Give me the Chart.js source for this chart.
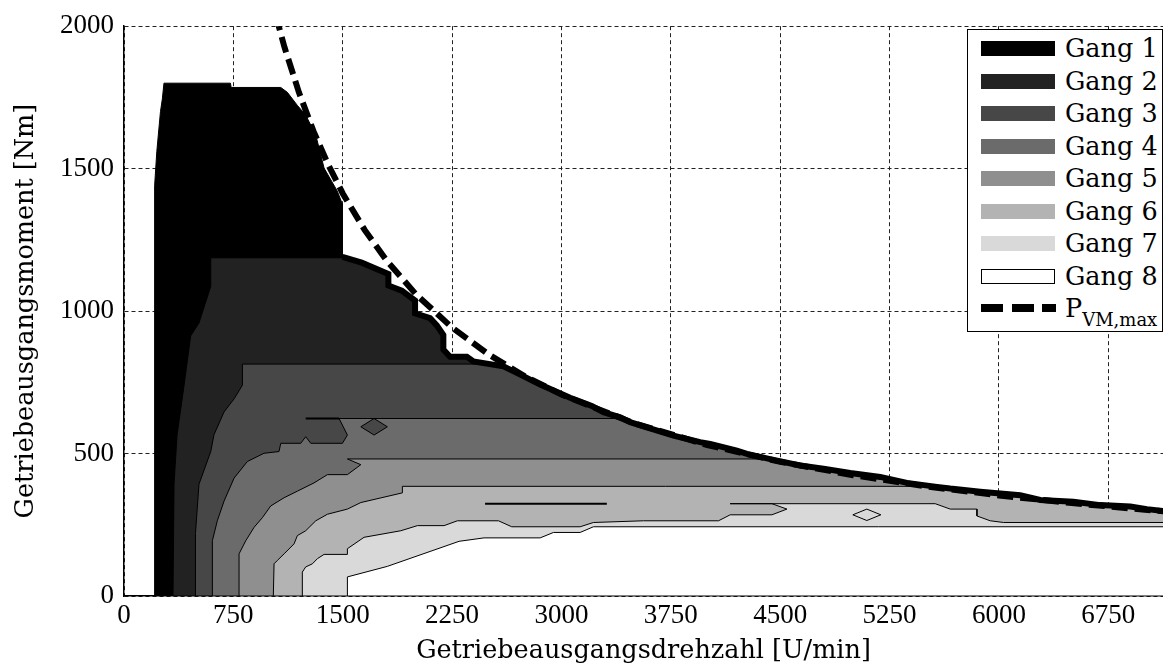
<!DOCTYPE html>
<html>
<head>
<meta charset="utf-8">
<script src="https://cdn.jsdelivr.net/npm/chart.js@4.4.1/dist/chart.umd.min.js"></script>
<style>
  html, body { margin: 0; padding: 0; background: #fff; }
  #wrap { position: relative; width: 1163px; height: 668px; overflow: hidden; }
  #legend {
    position: absolute; left: 967px; top: 29px; width: 196px; height: 303px;
    box-sizing: border-box; border: 1.5px solid #000; background: #fff;
    font-family: "DejaVu Serif", serif; font-size: 25.5px; color: #000;
  }
  .row { position: absolute; left: 0; width: 100%; height: 32px; }
  .sw { position: absolute; left: 13px; width: 74px; height: 15px; top: 9px; box-sizing: border-box; }
  .lbl { position: absolute; left: 97px; top: 0; line-height: 32px; white-space: nowrap; }
  .dash { position: absolute; top: 12px; height: 8px; background: #000; }
  sub { font-size: 18px; vertical-align: -9px; line-height: 0; }
</style>
</head>
<body>
<div id="wrap">
  <canvas id="chart" width="1163" height="668"></canvas>
  <div id="legend"></div>
</div>
<script>
// Gear regions, [drehzahl U/min, moment Nm]
const gearLabels = ['Gang 1', 'Gang 2', 'Gang 3', 'Gang 4', 'Gang 5', 'Gang 6', 'Gang 7', 'Gang 8'];
const gearColors = ['#000000', '#222222', '#474747', '#6b6b6b', '#8f8f8f', '#b3b3b3', '#d9d9d9', '#ffffff'];

const xTicks = [0, 750, 1500, 2250, 3000, 3750, 4500, 5250, 6000, 6750];
const yTicks = [0, 500, 1000, 1500, 2000];

// upper limit of the operating map (shared by gears 1-6)
const envelope = [
  [1498, 1190], [1630, 1170], [1813, 1130], [1813, 1090], [1905, 1072], [1996, 1037],
  [1996, 992], [2099, 975], [2145, 950], [2190, 916], [2190, 865], [2236, 840],
  [2351, 840], [2396, 823], [2602, 806], [2694, 783], [2854, 742], [3059, 696],
  [3208, 667], [3288, 645], [3402, 627], [3471, 610], [3585, 592], [3768, 563],
  [3951, 540], [4020, 534], [4203, 510], [4272, 499], [4454, 478], [4637, 458],
  [4797, 447], [4980, 432], [5186, 418], [5369, 397], [5575, 383], [5666, 377],
  [5872, 366], [6146, 354], [6283, 337], [6511, 331], [6695, 319], [6901, 314],
  [7015, 305], [7160, 296]
];

const gang1Edge = [
  [210, 0], [210, 1440], [225, 1560], [250, 1700], [263, 1745], [274, 1800],
  [730, 1800], [735, 1785], [1075, 1785], [1120, 1768], [1189, 1722], [1246, 1688],
  [1315, 1618], [1372, 1502], [1463, 1421], [1498, 1375]
];
const gang2Edge = [
  [336, 0], [343, 392], [364, 566], [412, 740], [457, 913], [514, 958],
  [595, 1087], [595, 1187], [1498, 1187]
];
const gang3Edge = [
  [487, 0], [490, 219], [514, 392], [595, 507], [617, 566], [686, 646],
  [755, 692], [812, 740], [812, 814], [2600, 814]
];
const gang4Edge = [
  [606, 0], [606, 194], [640, 264], [686, 333], [755, 414], [846, 472],
  [960, 501], [1063, 507], [1075, 536], [1212, 536], [1246, 559], [1281, 536],
  [1498, 536], [1532, 565], [1475, 623], [3440, 623]
];
const gang5Edge = [
  [789, 0], [789, 148], [835, 194], [892, 241], [949, 275], [1006, 316],
  [1098, 345], [1189, 368], [1303, 397], [1395, 426], [1532, 426], [1624, 461],
  [1532, 481], [4400, 481]
];
const gang6Edge = [
  [1024, 0], [1029, 113], [1052, 125], [1098, 148], [1166, 183], [1189, 212],
  [1246, 229], [1315, 264], [1395, 287], [1532, 305], [1624, 328], [1909, 362],
  [1909, 385], [5520, 385]
];
const gang7Edge = [
  [1223, 0], [1223, 84], [1246, 102], [1292, 113], [1326, 131], [1372, 146],
  [1532, 146], [1532, 166], [1646, 206], [1898, 229], [2012, 247], [2195, 247],
  [2286, 264], [2568, 264], [2659, 243], [3128, 243], [3219, 258], [3562, 264],
  [4077, 264], [4157, 285], [4443, 285], [4546, 305], [4443, 324], [4157, 324],
  [4443, 324], [5563, 324], [5666, 305], [5849, 305], [5849, 281], [5940, 264],
  [6032, 258], [7160, 258], [7160, 0]
];
const gang8Edge = [
  [1532, 0], [1532, 67], [1806, 104], [2298, 192], [2469, 204], [2854, 204],
  [2945, 223], [3128, 223], [3219, 243], [7160, 243], [7160, 0]
];

// small islands and zero-width contour pieces
const island3 = [[1624, 594], [1715, 623], [1806, 594], [1715, 565], [1624, 594]];
const island7 = [[4998, 285], [5094, 305], [5190, 285], [5094, 265], [4998, 285]];
const contourLineA = [[1246, 623], [1475, 623]];
const contourLineB = [[2476, 324], [3311, 324]];

// P_VM,max curve
const pMaxCurve = [
  [1040, 2040], [1100, 1927], [1200, 1767], [1300, 1631], [1400, 1514], [1500, 1413],
  [1650, 1285], [1800, 1178], [2000, 1060], [2250, 942], [2500, 848], [2750, 771],
  [3000, 707], [3500, 606], [4000, 530], [4500, 471], [5000, 424], [5500, 385],
  [6000, 353], [6500, 326], [7000, 303], [7160, 296]
];

const envFrom = x0 => envelope.filter(p => p[0] >= x0);
const toXY = pts => pts.map(p => ({ x: p[0], y: p[1] }));
const closeRing = pts => pts.concat([pts[0]]);

const gearPolys = [
  closeRing(gang1Edge.concat(envFrom(1498), [[7160, 0]])),
  closeRing(gang2Edge.concat(envFrom(1600), [[7160, 0]])),
  closeRing(gang3Edge.concat(envFrom(2650), [[7160, 0]])),
  closeRing(gang4Edge.concat(envFrom(3450), [[7160, 0]])),
  closeRing(gang5Edge.concat(envFrom(4420), [[7160, 0]])),
  closeRing(gang6Edge.concat(envFrom(5550), [[7160, 0]])),
  closeRing(gang7Edge),
  closeRing(gang8Edge)
];

const datasets = [];
gearPolys.forEach((poly, i) => {
  datasets.push({
    label: gearLabels[i],
    data: toXY(poly),
    borderColor: '#000',
    borderWidth: 1,
    backgroundColor: gearColors[i],
    fill: 'shape',
    order: 30 - i
  });
});
datasets.push({ label: 'island3', data: toXY(island3), borderColor: '#000', borderWidth: 1,
  backgroundColor: gearColors[2], fill: 'shape', order: 10 });
datasets.push({ label: 'island7', data: toXY(island7), borderColor: '#000', borderWidth: 1,
  backgroundColor: gearColors[6], fill: 'shape', order: 10 });
datasets.push({ label: 'lineA', data: toXY(contourLineA), borderColor: '#000', borderWidth: 2, fill: false, order: 9 });
datasets.push({ label: 'lineB', data: toXY(contourLineB), borderColor: '#000', borderWidth: 2, fill: false, order: 9 });
datasets.push({ label: 'envelope', data: toXY(envelope), borderColor: '#000', borderWidth: 6,
  fill: false, order: 5 });
datasets.push({ label: 'P_VM,max', data: toXY(pMaxCurve), borderColor: '#000', borderWidth: 6,
  borderDash: [16, 7], borderCapStyle: 'butt', fill: false, order: 1 });

const tickFont = { family: '"Liberation Serif", serif', size: 27 };
const titleFont = { family: '"DejaVu Serif", serif', size: 25.5 };

new Chart(document.getElementById('chart'), {
  type: 'line',
  data: { datasets },
  options: {
    responsive: false,
    animation: false,
    devicePixelRatio: 1,
    layout: { padding: { top: 20, right: 0, bottom: 0, left: 0 } },
    plugins: { legend: { display: false }, tooltip: { enabled: false } },
    elements: { point: { radius: 0 }, line: { tension: 0 } },
    scales: {
      x: {
        type: 'linear', min: 0, max: 7125, z: 1,
        afterBuildTicks: s => { s.ticks = xTicks.map(v => ({ value: v })); },
        ticks: { includeBounds: false, padding: 4, color: '#000', font: tickFont, maxRotation: 0,
          callback: v => String(v) },
        grid: { color: '#222', lineWidth: 1, drawTicks: false },
        border: { display: true, color: '#000', width: 1.5, dash: [4, 3] },
        title: { display: true, text: 'Getriebeausgangsdrehzahl [U/min]', color: '#000', font: titleFont,
          padding: { top: 0, bottom: 1 } },
        afterFit: s => { s.height = 72; }
      },
      y: {
        type: 'linear', min: 0, max: 2000, z: 1,
        afterBuildTicks: s => { s.ticks = yTicks.map(v => ({ value: v })); },
        ticks: { padding: 10, color: '#000', font: tickFont, callback: v => String(v) },
        grid: { color: '#222', lineWidth: 1, drawTicks: false },
        border: { display: true, color: '#000', width: 1.5, dash: [4, 3] },
        title: { display: true, text: 'Getriebeausgangsmoment [Nm]', color: '#000', font: titleFont,
          padding: { top: 11, bottom: 0 } },
        afterFit: s => { s.width = 124; }
      }
    }
  }
});

// legend inside the plot, upper right
const legend = document.getElementById('legend');
gearLabels.forEach((name, i) => {
  const row = document.createElement('div');
  row.className = 'row';
  row.style.top = (2 + i * 32.5) + 'px';
  const sw = document.createElement('div');
  sw.className = 'sw';
  sw.style.background = gearColors[i];
  if (i === 7) sw.style.border = '1px solid #000';
  const lbl = document.createElement('div');
  lbl.className = 'lbl';
  lbl.textContent = name;
  row.appendChild(sw);
  row.appendChild(lbl);
  legend.appendChild(row);
});
const pRow = document.createElement('div');
pRow.className = 'row';
pRow.style.top = (2 + 8 * 32.5) + 'px';
[[13, 22], [44, 22], [74, 14]].forEach(d => {
  const el = document.createElement('div');
  el.className = 'dash';
  el.style.left = d[0] + 'px';
  el.style.width = d[1] + 'px';
  pRow.appendChild(el);
});
const pLbl = document.createElement('div');
pLbl.className = 'lbl';
pLbl.innerHTML = 'P<sub>VM,max</sub>';
pRow.appendChild(pLbl);
legend.appendChild(pRow);
</script>
</body>
</html>
